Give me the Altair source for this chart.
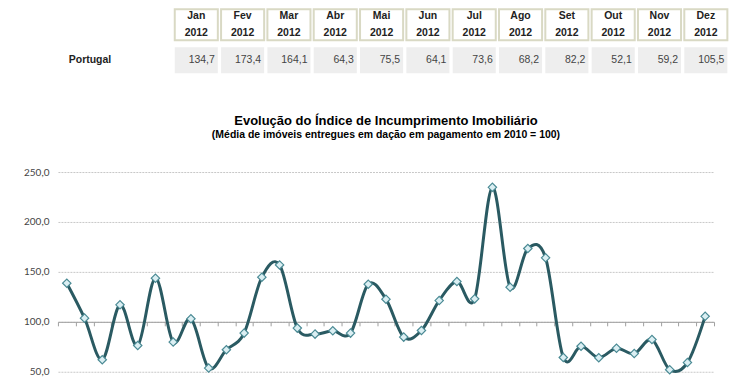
import altair as alt
import pandas as pd

# ---- data ----
months_pt = ["Jan", "Fev", "Mar", "Abr", "Mai", "Jun", "Jul", "Ago", "Set", "Out", "Nov", "Dez"]
table_year = "2012"
table_values = [134.7, 173.4, 164.1, 64.3, 75.5, 64.1, 73.6, 68.2, 82.2, 52.1, 59.2, 105.5]
row_label = "Portugal"

series_months = ["Dez 2009"] + [f"{m} {y}" for y in (2010, 2011, 2012) for m in months_pt]
series_values = [138.7, 103.7, 62.0, 117.0, 76.3, 143.7, 79.7, 103.0, 53.7, 72.0, 88.7, 144.7,
                 157.0, 93.7, 87.7, 91.0, 88.7, 137.7, 122.7, 84.7, 91.3, 121.3, 140.3, 123.0,
                 234.7, 134.7, 173.4, 164.1, 64.3, 75.5, 64.1, 73.6, 68.2, 82.2, 52.1, 59.2, 105.5]

title_text = "Evolução do Índice de Incumprimento Imobiliário"
subtitle_text = "(Média de imóveis entregues em dação em pagamento em 2010 = 100)"
y_ticks = [50, 100, 150, 200, 250]

# ---- table frames ----
tab = pd.DataFrame({"mes": months_pt, "ano": [table_year] * 12, "valor": table_values,
                    "i": list(range(12))})
tab["x0"] = tab["i"]
tab["x1"] = tab["i"] + 0.93
tab["xc"] = tab["i"] + 0.465
tab["header"] = tab["mes"] + "\n" + tab["ano"]
tab["label"] = tab["valor"].map(lambda v: f"{v:.1f}".replace(".", ","))
lab = pd.DataFrame({"label": [row_label]})

FONT = "Liberation Sans"
xs = alt.Scale(domain=[-2.522, 12.03], nice=False, zero=False)

hdr_rect = alt.Chart(tab).mark_rect(fill="white", stroke="#d9d9c4", strokeWidth=2).encode(
    x=alt.X("x0:Q", scale=xs, axis=None), x2="x1:Q")
hdr_text = alt.Chart(tab).mark_text(font=FONT, fontWeight="bold", fontSize=10.5, lineBreak="\n",
                                    lineHeight=17, color="#222222", baseline="middle",
                                    dy=-9).encode(
    x=alt.X("xc:Q", scale=xs, axis=None), text="header:N")
header = alt.layer(hdr_rect, hdr_text).properties(width=675, height=31)

val_rect = alt.Chart(tab).mark_rect(fill="#eeeeee").encode(
    x=alt.X("x0:Q", scale=xs, axis=None), x2="x1:Q")
val_text = alt.Chart(tab).mark_text(font=FONT, fontSize=10.5, align="right", dx=-3,
                                    color="#444444", baseline="middle").encode(
    x=alt.X("x1:Q", scale=xs, axis=None), text="label:N")
row_text = alt.Chart(lab).mark_text(font=FONT, fontSize=10.5, fontWeight="bold",
                                    color="#222222", baseline="middle").encode(
    x=alt.datum(-1.83), text="label:N")
values = alt.layer(val_rect, val_text, row_text).properties(width=675, height=26)

table = alt.vconcat(header, values, spacing=6)

# ---- line chart ----
ser = pd.DataFrame({"mes": series_months, "v": series_values})
xline = alt.X("mes:N", sort=series_months,
              scale=alt.Scale(type="band", paddingInner=0, paddingOuter=0),
              axis=alt.Axis(title=None, labels=False, ticks=True, tickBand="extent", tickSize=4,
                            tickColor="#a0a0a0", domainColor="#a0a0a0", domainWidth=1,
                            offset=-50, grid=False))
yline = alt.Y("v:Q", scale=alt.Scale(domain=[50, 250], nice=False, zero=False),
              axis=alt.Axis(values=y_ticks, title=None,
                            labelExpr="replace(format(datum.value, '.1f'), '.', ',')",
                            grid=True, gridDash=[2, 1], gridColor="#c8c8c8", domain=False,
                            ticks=False, labelPadding=9, minExtent=50, labelFont="Lato",
                            labelFontSize=10, labelColor="#444444"))
line = alt.Chart(ser).mark_line(interpolate="cardinal", color="#2a5a62", strokeWidth=3).encode(
    x=xline, y=yline)
pts = alt.Chart(ser).mark_point(shape="diamond", filled=True, fill="#dbeff3", stroke="#4a8a94",
                                strokeWidth=1.2, size=70, opacity=1).encode(x=xline, y=yline)
linechart = alt.layer(line, pts).properties(
    width=657, height=200,
    title=alt.Title(text=title_text, subtitle=subtitle_text, anchor="middle", font=FONT,
                    fontSize=13, fontWeight="bold", color="black", subtitleFont=FONT,
                    subtitleFontSize=10.5, subtitleFontWeight="bold", subtitleColor="black",
                    subtitlePadding=2, offset=27))

chart = alt.vconcat(table, linechart, spacing=41).properties(
    padding={"left": 0, "top": 0, "right": 0, "bottom": 0}
).configure_view(strokeWidth=0)

chart.save("out.html", embed_options={"renderer": "svg", "actions": False})
